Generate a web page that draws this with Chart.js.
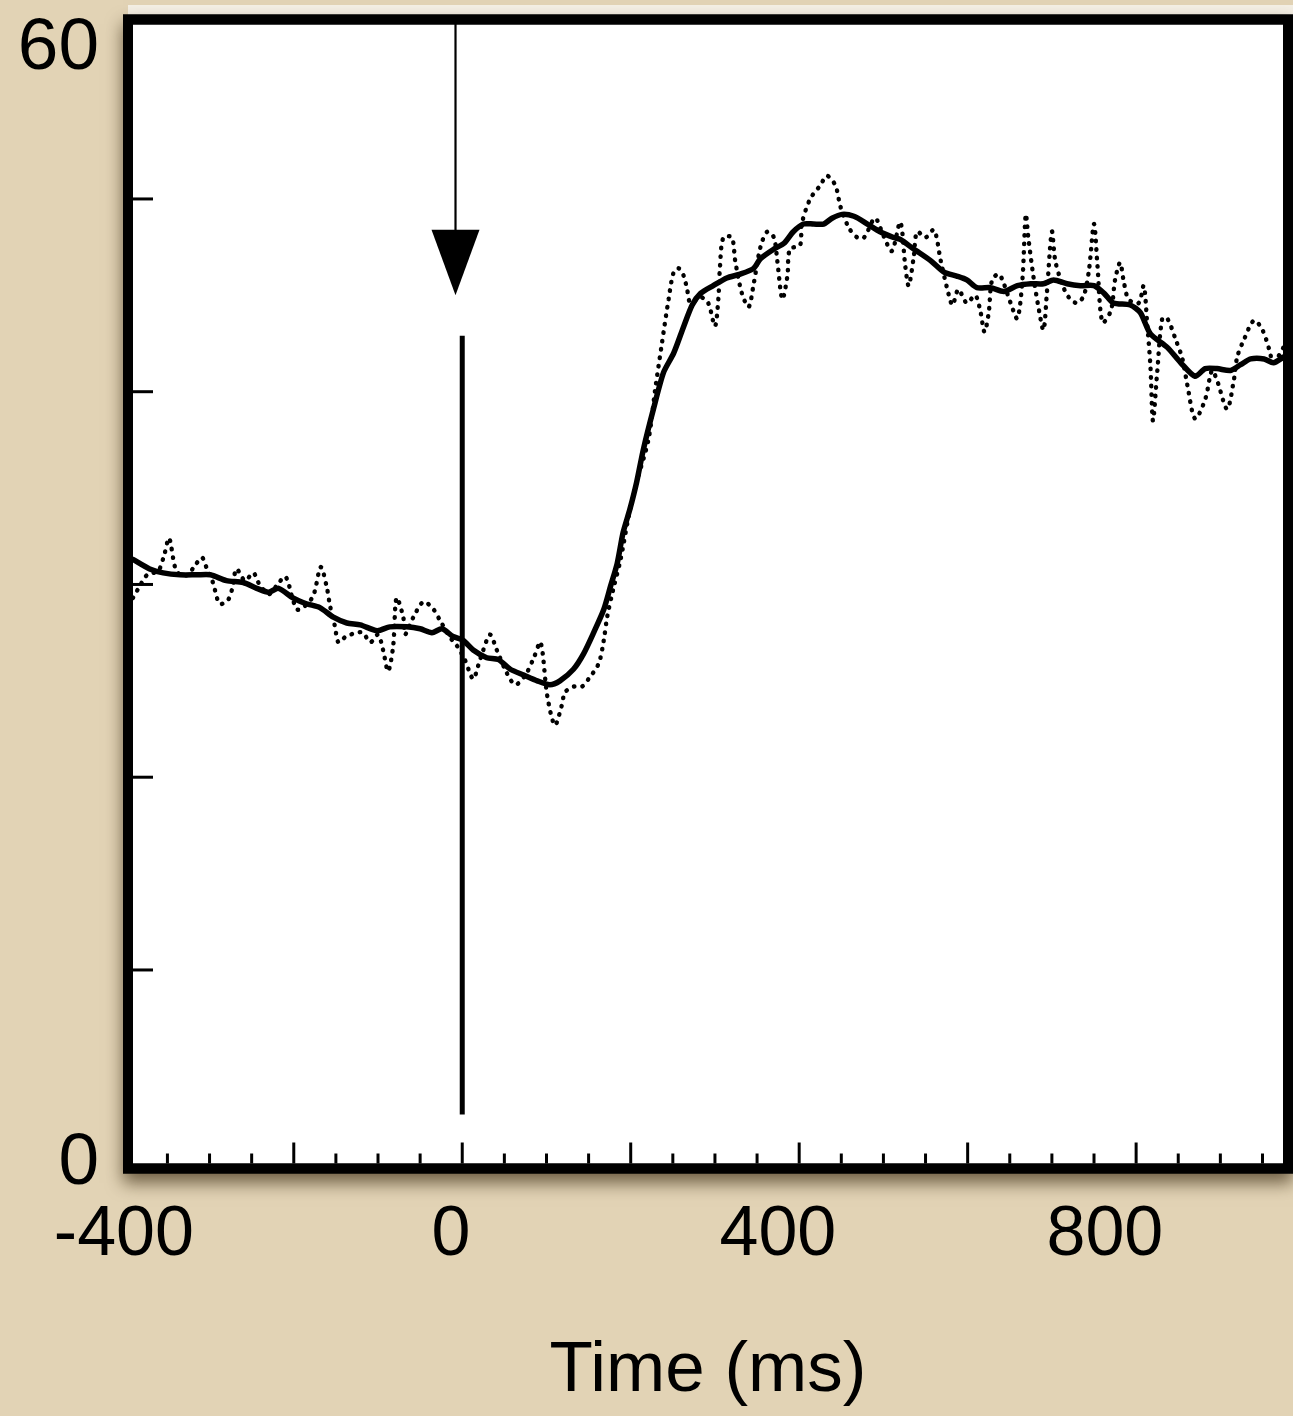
<!DOCTYPE html>
<html>
<head>
<meta charset="utf-8">
<style>
  html, body { margin: 0; padding: 0; background: #E2D3B5; }
  #c { display: block; }
</style>
<script src="https://cdn.jsdelivr.net/npm/chart.js@4/dist/chart.umd.min.js"></script>
</head>
<body>
<canvas id="c" width="1293" height="1416"></canvas>
<script>
// ---- data (time in ms, response in units of the y axis) ----
const solidTime = [-391,-371,-355,-335,-315,-299,-280,-260,-244,-230,-218,-201,-185,-169,-153,-137,-121,-101,-86,-66,-50,-36,-24,-11,1,13,29,43,57,73,89,104,116,132,144,156,168,176,184,191,199,207,215,227,239,251,263,273,283,298,314,330,346,354,370,382,393,405,417,429,439,451,465,481,496,512,520,536,556,572,587,599,611,627,643,659,675,690,702,718,734,750,762,773,793,805,817,837,853,870,882,896,912,924,936,952,963,975];
const solidValue = [31.3,30.8,30.6,30.5,30.5,30.5,30.2,30.1,29.8,29.6,29.8,29.3,29.0,28.8,28.3,28.0,27.9,27.6,27.8,27.8,27.7,27.5,27.7,27.3,27.1,26.6,26.2,26.1,25.6,25.3,25.0,24.8,25.0,25.6,26.4,27.5,28.7,29.9,31.1,32.7,33.9,35.3,37.0,39.1,41.0,42.0,43.4,44.5,45.1,45.5,45.9,46.1,46.4,46.9,47.4,47.7,48.3,48.7,48.7,48.7,49.0,49.2,49.1,48.7,48.3,48.0,47.9,47.4,46.8,46.2,46.0,45.8,45.4,45.4,45.2,45.5,45.6,45.6,45.8,45.6,45.5,45.5,45.1,44.6,44.5,44.1,43.0,42.3,41.5,40.8,41.2,41.2,41.1,41.4,41.7,41.7,41.5,41.8];

const dottedTime = [-391,-383,-374,-361,-354,-348,-341,-335,-326,-317,-309,-303,-296,-288,-278,-273,-268,-258,-248,-242,-230,-221,-210,-201,-196,-189,-177,-168,-161,-157,-151,-147,-138,-125,-118,-109,-100,-94,-88,-82,-78,-70,-68,-58,-46,-34,-26,-12,-6,3,13,19,25,33,41,53,63,75,85,93,101,110,118,122,132,142,150,162,168,172,179,188,197,207,221,229,237,245,251,257,263,267,271,283,292,300,304,306,310,320,324,332,340,346,354,362,370,374,380,386,389,401,403,413,425,433,443,449,459,469,477,490,500,510,520,526,530,536,540,550,560,568,576,582,589,599,609,615,620,625,629,637,643,651,659,665,669,672,678,684,690,694,700,704,712,720,730,738,744,750,754,760,770,775,781,785,791,803,809,813,817,820,825,831,837,847,855,861,870,882,890,896,908,916,920,928,940,950,958,963,975];
const dottedValue = [29.3,29.9,30.5,30.7,31.5,32.4,30.9,30.5,30.5,31.0,31.4,30.8,30.1,29.0,29.2,29.8,30.8,30.2,30.6,30.1,29.5,29.9,30.4,29.2,28.7,28.8,29.4,30.9,29.9,28.9,27.8,27.0,27.3,27.5,27.5,27.0,27.4,26.6,25.5,26.8,29.3,28.3,27.4,28.3,29.1,28.7,28.1,27.1,26.8,26.1,25.1,25.8,26.6,27.4,26.6,25.4,24.8,25.3,26.2,27.0,24.2,22.7,23.7,24.4,24.7,24.7,25.1,25.9,27.1,28.3,29.7,31.3,33.4,35.3,37.5,40.1,42.5,44.8,46.2,46.4,46.0,45.3,44.6,44.9,44.6,43.4,44.8,46.5,48.0,48.0,46.8,45.1,44.4,45.6,47.5,48.3,48.0,46.8,44.8,46.0,47.4,47.6,48.7,50.0,50.7,51.2,50.7,49.6,48.5,48.0,48.0,49.0,48.1,47.3,48.8,46.5,45.5,47.0,48.3,48.0,48.4,46.8,45.3,44.5,45.3,44.6,45.0,44.2,43.1,44.1,45.8,46.1,45.6,44.6,43.8,45.8,49.2,48.0,46.0,44.4,43.2,45.1,48.3,46.8,45.6,44.9,44.6,45.0,46.3,48.7,46.6,43.6,44.2,45.8,46.7,45.8,44.8,44.6,45.5,43.6,41.3,38.5,41.0,43.8,43.8,42.7,41.7,40.3,38.6,39.6,41.1,40.6,39.1,40.6,41.8,42.7,43.7,43.2,42.2,41.5,42.3];

const xTickLabels = [-400, 0, 400, 800];
const yTickLabels = [0, 60];
const xMajorTicks = [-200, 0, 200, 400, 600, 800];
const xMinorTicks = [-350, -300, -250, -150, -100, -50, 50, 100, 150, 250, 300, 350, 450, 500, 550, 650, 700, 750, 850, 900, 950];
const yMajorTicks = [10, 20, 30, 40, 50];
const stimulusTime = 0;          // thick vertical line
const stimulusRange = [2.5, 42.9];
const arrowTime = -8;            // arrow marker
const arrowTipValue = 45.0;
const arrowHeadTopValue = 48.4;
const axisTitle = 'Time (ms)';

const FONT = "'Liberation Sans', Arial, Helvetica, sans-serif";

const framePlugin = {
  id: 'frame',
  beforeDraw(chart) {
    const { ctx, chartArea: a } = chart;
    ctx.save();
    ctx.fillStyle = '#f4efe4';
    ctx.fillRect(a.left, 5, chart.width - a.left, 10);
    ctx.shadowColor = 'rgba(50,35,10,0.65)';
    ctx.shadowBlur = 16;
    ctx.shadowOffsetX = 0;
    ctx.shadowOffsetY = 9;
    ctx.fillStyle = '#000';
    ctx.fillRect(a.left - 5, a.top - 5, a.right - a.left + 10, a.bottom - a.top + 10);
    ctx.restore();
    ctx.fillStyle = '#fff';
    ctx.fillRect(a.left + 5, a.top + 5, a.right - a.left - 10, a.bottom - a.top - 10);
  },
  afterDatasetsDraw(chart) {
    const { ctx, chartArea: a } = chart;
    const xs = chart.scales.x, ys = chart.scales.y;
    const inL = a.left + 5, inB = a.bottom - 5;
    ctx.save();
    ctx.strokeStyle = '#000';
    ctx.fillStyle = '#000';
    ctx.lineCap = 'butt';
    // y ticks (inward)
    ctx.lineWidth = 3;
    yMajorTicks.forEach(v => {
      const y = ys.getPixelForValue(v);
      ctx.beginPath(); ctx.moveTo(inL, y); ctx.lineTo(inL + 20, y); ctx.stroke();
    });
    // x ticks (inward)
    xMajorTicks.forEach(v => {
      const x = xs.getPixelForValue(v);
      ctx.beginPath(); ctx.moveTo(x, inB); ctx.lineTo(x, inB - 21); ctx.stroke();
    });
    xMinorTicks.forEach(v => {
      const x = xs.getPixelForValue(v);
      ctx.beginPath(); ctx.moveTo(x, inB); ctx.lineTo(x, inB - 10); ctx.stroke();
    });
    // stimulus line
    const sx = xs.getPixelForValue(stimulusTime);
    ctx.lineWidth = 5;
    ctx.beginPath();
    ctx.moveTo(sx, ys.getPixelForValue(stimulusRange[0]));
    ctx.lineTo(sx, ys.getPixelForValue(stimulusRange[1]));
    ctx.stroke();
    // arrow
    const ax = xs.getPixelForValue(arrowTime);
    const tipY = ys.getPixelForValue(arrowTipValue);
    const headY = ys.getPixelForValue(arrowHeadTopValue);
    ctx.lineWidth = 2.2;
    ctx.beginPath(); ctx.moveTo(ax, a.top); ctx.lineTo(ax, headY + 2); ctx.stroke();
    ctx.beginPath();
    ctx.moveTo(ax - 24, headY); ctx.lineTo(ax + 24, headY); ctx.lineTo(ax, tipY); ctx.closePath();
    ctx.fill();
    // frame
    ctx.lineWidth = 10;
    ctx.strokeRect(a.left, a.top, a.right - a.left, a.bottom - a.top);
    ctx.restore();
  }
};

function zeroPad(s) { s.paddingLeft = 0; s.paddingRight = 0; s.paddingTop = 0; s.paddingBottom = 0; }

new Chart(document.getElementById('c'), {
  type: 'line',
  data: {
    datasets: [
      {
        label: 'raw',
        data: dottedTime.map((t, i) => ({ x: t, y: dottedValue[i] })),
        borderColor: '#000',
        borderWidth: 4.4,
        borderDash: [0.5, 8],
        borderCapStyle: 'round',
        pointRadius: 0,
        tension: 0.3,
        xAxisID: 'x', yAxisID: 'y'
      },
      {
        label: 'smoothed',
        data: solidTime.map((t, i) => ({ x: t, y: solidValue[i] })),
        borderColor: '#000',
        borderWidth: 5.5,
        borderJoinStyle: 'round',
        borderCapStyle: 'round',
        pointRadius: 0,
        tension: 0.25,
        xAxisID: 'x', yAxisID: 'y'
      }
    ]
  },
  options: {
    responsive: false,
    animation: false,
    devicePixelRatio: 1,
    layout: { padding: { top: 19.5, right: 5, bottom: 0, left: 0 } },
    plugins: { legend: { display: false }, tooltip: { enabled: false } },
    scales: {
      x: { type: 'linear', display: false, min: -396.8, max: 980.3 },
      y: { type: 'linear', display: false, min: -0.3, max: 59.31 },
      xLab: {
        type: 'linear', position: 'bottom', min: -395, max: 1024,
        grid: { display: false, drawTicks: false },
        border: { display: false },
        ticks: { color: '#000', font: { family: FONT, size: 70 }, padding: 25.5, maxRotation: 0, autoSkip: false },
        afterBuildTicks: s => { s.ticks = xTickLabels.map(v => ({ value: v })); },
        title: { display: true, text: axisTitle, color: '#000', font: { family: FONT, size: 71 }, padding: { top: 0, bottom: 2 } },
        afterFit: s => { s.height = 247.5; zeroPad(s); }
      },
      yLab: {
        type: 'linear', position: 'left', min: -0.25, max: 61.6,
        grid: { display: false, drawTicks: false },
        border: { display: false },
        ticks: { color: '#000', font: { family: FONT, size: 73 }, padding: 29, autoSkip: false },
        afterBuildTicks: s => { s.ticks = yTickLabels.map(v => ({ value: v })); },
        afterFit: s => { s.width = 128; zeroPad(s); }
      }
    }
  },
  plugins: [framePlugin]
});
</script>
</body>
</html>
